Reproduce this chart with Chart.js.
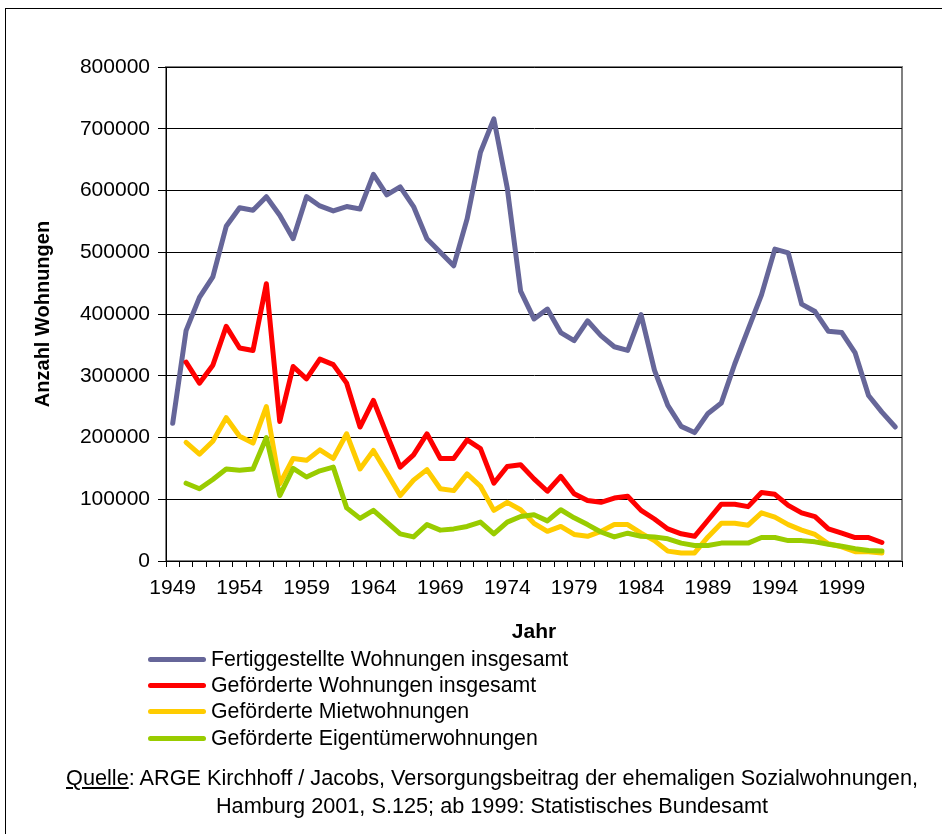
<!DOCTYPE html>
<html lang="de">
<head>
<meta charset="utf-8">
<title>Wohnungsbau 1949-2003</title>
<script src="https://cdn.jsdelivr.net/npm/chart.js@4.4.1/dist/chart.umd.min.js"></script>
<style>
    html, body { margin: 0; padding: 0; background: #fff; overflow: hidden; }
    #wrap { position: relative; width: 942px; height: 834px; font-family: "Liberation Sans", Arial, sans-serif; color: #000; }
    #frame { position: absolute; left: 5px; top: 8px; width: 1000px; height: 1000px; border: 1px solid #000; }
    #chartBox { position: absolute; left: 0; top: 0; width: 942px; height: 834px; }
    #legend { position: absolute; left: 148px; top: 646px; font-size: 21.3px; }
    #legend .row { display: flex; align-items: center; height: 26.4px; white-space: nowrap; }
    #legend .swatch { width: 58px; height: 5px; border-radius: 3px; margin-right: 5px; }
    #source { position: absolute; left: 0; top: 764px; width: 984px; text-align: center; font-size: 21.7px; line-height: 28px; }
</style>
</head>
<body>
<div id="wrap">
    <div id="frame"></div>
    <div id="chartBox"><canvas id="chart"></canvas></div>
    <div id="legend"></div>
    <div id="source"><u>Quelle</u>: ARGE Kirchhoff / Jacobs, Versorgungsbeitrag der ehemaligen Sozialwohnungen,<br>Hamburg 2001, S.125; ab 1999: Statistisches Bundesamt</div>
</div>
<script>
// Jahre (Kategorien), beschriftet wird jedes 5. Jahr
const years = ['1949', '1950', '1951', '1952', '1953', '1954', '1955', '1956', '1957', '1958',
    '1959', '1960', '1961', '1962', '1963', '1964', '1965', '1966', '1967', '1968',
    '1969', '1970', '1971', '1972', '1973', '1974', '1975', '1976', '1977', '1978',
    '1979', '1980', '1981', '1982', '1983', '1984', '1985', '1986', '1987', '1988',
    '1989', '1990', '1991', '1992', '1993', '1994', '1995', '1996', '1997', '1998',
    '1999', '2000', '2001', '2002', '2003'];
const labelEvery = 5;

const fertiggestellt = [223000, 373000, 427000, 460000, 542000, 572000, 568000, 590000, 560000, 522000,
    590000, 575000, 567000, 574000, 570000, 626000, 593000, 606000, 574000, 522000,
    500000, 478000, 554000, 662000, 716000, 604000, 437000, 392000, 408000, 370000,
    357000, 389000, 365000, 347000, 341000, 399000, 309000, 252000, 218000, 208000,
    239000, 256000, 319000, 375000, 431000, 505000, 499000, 416000, 404000, 372000,
    370000, 337000, 268000, 241000, 217000];

const gefoerdert = [null, 322000, 288000, 317000, 380000, 345000, 341000, 449000, 226000, 315000,
    295000, 327000, 318000, 288000, 217000, 260000, 205000, 152000, 172000, 206000,
    166000, 166000, 196000, 182000, 126000, 153000, 156000, 133000, 113000, 137000,
    109000, 98000, 95000, 102000, 105000, 82000, 68000, 52000, 44000, 40000,
    66000, 92000, 92000, 88000, 111000, 108000, 90000, 78000, 72000, 52000,
    45000, 38000, 38000, 30000, null];

const mietwohnungen = [null, 192000, 173000, 194000, 232000, 202000, 191000, 250000, 125000, 166000,
    163000, 180000, 166000, 206000, 149000, 179000, 143000, 106000, 131000, 148000,
    117000, 114000, 141000, 121000, 82000, 95000, 83000, 61000, 48000, 56000,
    43000, 40000, 48000, 59000, 59000, 45000, 33000, 16000, 13000, 13000,
    39000, 61000, 61000, 58000, 78000, 71000, 59000, 50000, 43000, 28000,
    23000, 15000, 15000, 13000, null];

const eigentuemerwohnungen = [null, 126000, 117000, 132000, 149000, 147000, 149000, 200000, 106000, 150000,
    136000, 146000, 152000, 86000, 69000, 82000, 63000, 44000, 39000, 59000,
    50000, 52000, 56000, 63000, 44000, 63000, 72000, 75000, 65000, 83000,
    70000, 59000, 47000, 39000, 45000, 40000, 39000, 36000, 29000, 25000,
    25000, 29000, 29000, 29000, 38000, 38000, 33000, 33000, 31000, 27000,
    24000, 20000, 17000, 16000, null];

const yMin = 0;
const yMax = 800000;
const yStep = 100000;

Chart.defaults.font.family = '"Liberation Sans", Arial, sans-serif';
Chart.defaults.color = '#000';

// grauer Rahmen um die Zeichenfläche
const plotFrame = {
    id: 'plotFrame',
    beforeDraw(chart) {
        const { ctx, chartArea: a } = chart;
        ctx.save();
        ctx.strokeStyle = '#808080';
        ctx.lineWidth = 2;
        ctx.strokeRect(a.left, a.top, a.right - a.left, a.bottom - a.top);
        ctx.restore();
    }
};

const lineStyle = {
    borderWidth: 5,
    pointRadius: 0,
    pointHoverRadius: 0,
    fill: false,
    tension: 0,
    borderJoinStyle: 'round',
    borderCapStyle: 'round',
    spanGaps: false
};

const chart = new Chart(document.getElementById('chart'), {
    type: 'line',
    data: {
        labels: years,
        datasets: [
            { label: 'Fertiggestellte Wohnungen insgesamt', data: fertiggestellt, borderColor: '#666699', order: 3, ...lineStyle },
            { label: 'Geförderte Wohnungen insgesamt', data: gefoerdert, borderColor: '#FF0000', order: 2, ...lineStyle },
            { label: 'Geförderte Mietwohnungen', data: mietwohnungen, borderColor: '#FFCC00', order: 1, ...lineStyle },
            { label: 'Geförderte Eigentümerwohnungen', data: eigentuemerwohnungen, borderColor: '#99CC00', order: 0, ...lineStyle }
        ]
    },
    options: {
        responsive: true,
        maintainAspectRatio: false,
        animation: false,
        devicePixelRatio: 1,
        layout: { padding: { left: 0, top: 67, right: 40, bottom: 189 } },
        plugins: {
            legend: { display: false },
            tooltip: { enabled: false }
        },
        scales: {
            x: {
                offset: true,
                afterFit(scale) { scale.height = 84; },
                grid: { offset: true, drawOnChartArea: false, drawTicks: true, tickLength: 6, color: '#000' },
                border: { color: '#000', width: 1 },
                ticks: {
                    autoSkip: false,
                    maxRotation: 0,
                    padding: 9,
                    font: { size: 21 },
                    callback(value, index) {
                        return index % labelEvery === 0 ? this.getLabelForValue(value) : '';
                    }
                },
                title: { display: true, text: 'Jahr', font: { size: 21, weight: 'bold' }, padding: { top: 0, bottom: 0 } }
            },
            y: {
                min: yMin,
                max: yMax,
                afterFit(scale) { scale.width = 166; },
                grid: { color: '#000', lineWidth: 1, drawTicks: true, tickLength: 8 },
                border: { color: '#000', width: 1 },
                ticks: {
                    stepSize: yStep,
                    padding: 8,
                    font: { size: 21 },
                    callback: value => String(value)
                },
                title: { display: true, text: 'Anzahl Wohnungen', font: { size: 20, weight: 'bold' }, padding: { top: 31, bottom: 0 } }
            }
        }
    },
    plugins: [plotFrame]
});

// Legende untereinander, wie im Original
const legend = document.getElementById('legend');
chart.data.datasets.forEach(ds => {
    const row = document.createElement('div');
    row.className = 'row';
    const sw = document.createElement('span');
    sw.className = 'swatch';
    sw.style.background = ds.borderColor;
    const txt = document.createElement('span');
    txt.textContent = ds.label;
    row.appendChild(sw);
    row.appendChild(txt);
    legend.appendChild(row);
});
</script>
</body>
</html>
